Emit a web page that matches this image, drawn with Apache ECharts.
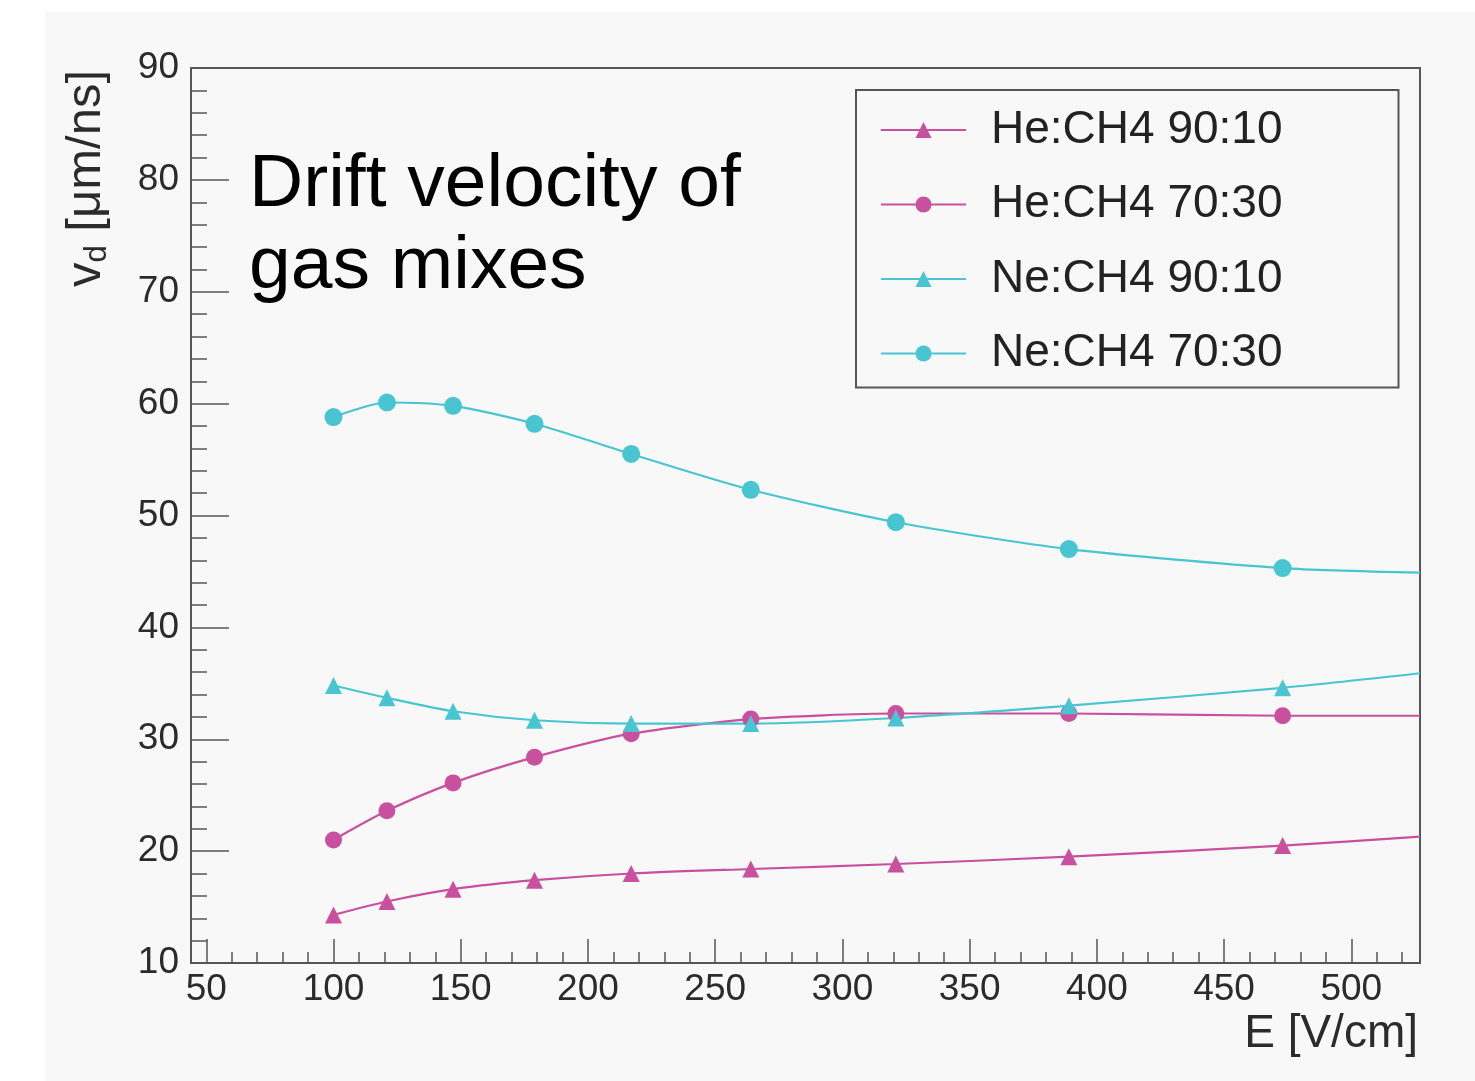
<!DOCTYPE html>
<html>
<head>
<meta charset="utf-8">
<title>Drift velocity of gas mixes</title>
<script src="https://cdn.jsdelivr.net/npm/echarts@6/dist/echarts.min.js"></script>
<style>
  html, body { margin: 0; padding: 0; background: #fff; }
  #chart { width: 1475px; height: 1081px; }
</style>
</head>
<body>
<div id="chart"></div>
<script>
// field values E [V/cm]
const fieldE = [100, 121, 147, 179, 217, 264, 321, 389, 473]
// drift velocity [um/ns] per gas mix
const heCh4_90_10 = [14.3, 15.5, 16.6, 17.4, 18.0, 18.4, 18.85, 19.5, 20.5]
const heCh4_70_30 = [21.0, 23.6, 26.1, 28.4, 30.5, 31.8, 32.3, 32.3, 32.1]
const neCh4_90_10 = [34.8, 33.7, 32.5, 31.7, 31.4, 31.4, 31.9, 33.0, 34.6]
const neCh4_70_30 = [58.8, 60.1, 59.8, 58.2, 55.5, 52.3, 49.4, 47.0, 45.3]
// where each curve leaves the frame (no marker there)
const edgeE = 527
const edgeValues = [21.3, 32.1, 35.9, 44.9]

const seriesNames = ['He:CH4 90:10', 'He:CH4 70:30', 'Ne:CH4 90:10', 'Ne:CH4 70:30']
const xMajorTicks = [50, 100, 150, 200, 250, 300, 350, 400, 450, 500]
const xMinorTicks = [
  50, 60, 70, 80, 90, 100, 110, 120, 130, 140, 150, 160, 170, 180, 190, 200,
  210, 220, 230, 240, 250, 260, 270, 280, 290, 300, 310, 320, 330, 340, 350,
  360, 370, 380, 390, 400, 410, 420, 430, 440, 450, 460, 470, 480, 490, 500,
  510, 520
]

const magenta = '#c8509e'
const cyan = '#48c5d1'
const font = '"Liberation Sans", Arial, Helvetica, sans-serif'

function makeSeries(name, values, edge, color, symbol, size) {
  const data = values.map((v, i) => [fieldE[i], v])
  data.push({ value: [edgeE, edge], symbol: 'none' })
  return {
    name: name,
    type: 'line',
    xAxisIndex: 0,
    yAxisIndex: 0,
    data: data,
    smooth: 0.25,
    symbol: symbol,
    symbolSize: size,
    showSymbol: true,
    clip: true,
    lineStyle: { color: color, width: 2.2 },
    itemStyle: { color: color },
    emphasis: { disabled: true }
  }
}

const chart = echarts.init(document.getElementById('chart'))

const options = {
  backgroundColor: '#ffffff',
  animation: false,
  textStyle: { fontFamily: font },
  graphic: [
    {
      type: 'rect',
      z: -10,
      shape: { x: 45, y: 12, width: 1430, height: 1069 },
      style: { fill: '#f8f8f8' }
    },
    {
      type: 'text',
      left: 249,
      top: 144,
      z: 10,
      style: {
        text: 'Drift velocity of\ngas mixes',
        font: '75px ' + font,
        lineHeight: 82,
        fill: '#000'
      }
    },
    {
      type: 'text',
      x: 1418,
      y: 1034,
      style: {
        text: 'E [V/cm]',
        font: '46px ' + font,
        fill: '#2b2b2b',
        align: 'right',
        verticalAlign: 'middle'
      }
    },
    {
      type: 'text',
      x: 86,
      y: 70,
      rotation: Math.PI / 2,
      style: {
        text: '{a|v}{b|d}{a| [μm/ns]}',
        align: 'right',
        verticalAlign: 'middle',
        fill: '#2b2b2b',
        rich: {
          a: { fontSize: 49, fontFamily: font, lineHeight: 54, fill: '#2b2b2b' },
          b: { fontSize: 31, fontFamily: font, lineHeight: 32, verticalAlign: 'bottom', fill: '#2b2b2b' }
        }
      }
    }
  ],
  grid: {
    left: 191,
    right: 55,
    top: 68,
    bottom: 118,
    show: true,
    borderColor: '#555',
    borderWidth: 2,
    backgroundColor: 'transparent'
  },
  legend: {
    orient: 'vertical',
    left: 856,
    top: 90,
    data: seriesNames,
    padding: [15, 116, 9, 24],
    itemWidth: 85,
    itemHeight: 20,
    itemGap: 24.5,
    backgroundColor: '#f8f8f8',
    borderColor: '#555',
    borderWidth: 2,
    textStyle: {
      fontSize: 46,
      lineHeight: 50,
      color: '#222',
      fontFamily: font,
      padding: [0, 0, 0, 20]
    },
    selectedMode: false
  },
  xAxis: [
    {
      type: 'value',
      min: 44,
      max: 527,
      position: 'bottom',
      axisLine: { show: true, lineStyle: { color: '#555', width: 2 } },
      axisTick: {
        show: true,
        inside: true,
        length: 24,
        customValues: xMajorTicks,
        lineStyle: { color: '#555', width: 1.5 }
      },
      axisLabel: {
        customValues: xMajorTicks,
        fontSize: 37,
        color: '#2b2b2b',
        margin: 8,
        fontFamily: font
      },
      splitLine: { show: false }
    },
    {
      type: 'value',
      min: 44,
      max: 527,
      position: 'bottom',
      axisLine: { show: false },
      axisTick: {
        show: true,
        inside: true,
        length: 11,
        customValues: xMinorTicks,
        lineStyle: { color: '#555', width: 1.5 }
      },
      axisLabel: { show: false },
      splitLine: { show: false }
    }
  ],
  yAxis: {
    type: 'value',
    min: 10,
    max: 90,
    interval: 10,
    axisLine: { show: true, lineStyle: { color: '#555', width: 2 } },
    axisTick: {
      show: true,
      inside: true,
      length: 38,
      lineStyle: { color: '#555', width: 1.5 }
    },
    minorTick: {
      show: true,
      splitNumber: 5,
      length: 16,
      lineStyle: { color: '#555', width: 1.5 }
    },
    axisLabel: {
      fontSize: 37,
      color: '#2b2b2b',
      margin: 12,
      fontFamily: font
    },
    splitLine: { show: false }
  },
  series: [
    makeSeries(seriesNames[0], heCh4_90_10, edgeValues[0], magenta, 'triangle', 17),
    makeSeries(seriesNames[1], heCh4_70_30, edgeValues[1], magenta, 'circle', 17),
    makeSeries(seriesNames[2], neCh4_90_10, edgeValues[2], cyan, 'triangle', 17),
    makeSeries(seriesNames[3], neCh4_70_30, edgeValues[3], cyan, 'circle', 18)
  ]
}

chart.setOption(options)
</script>
</body>
</html>
